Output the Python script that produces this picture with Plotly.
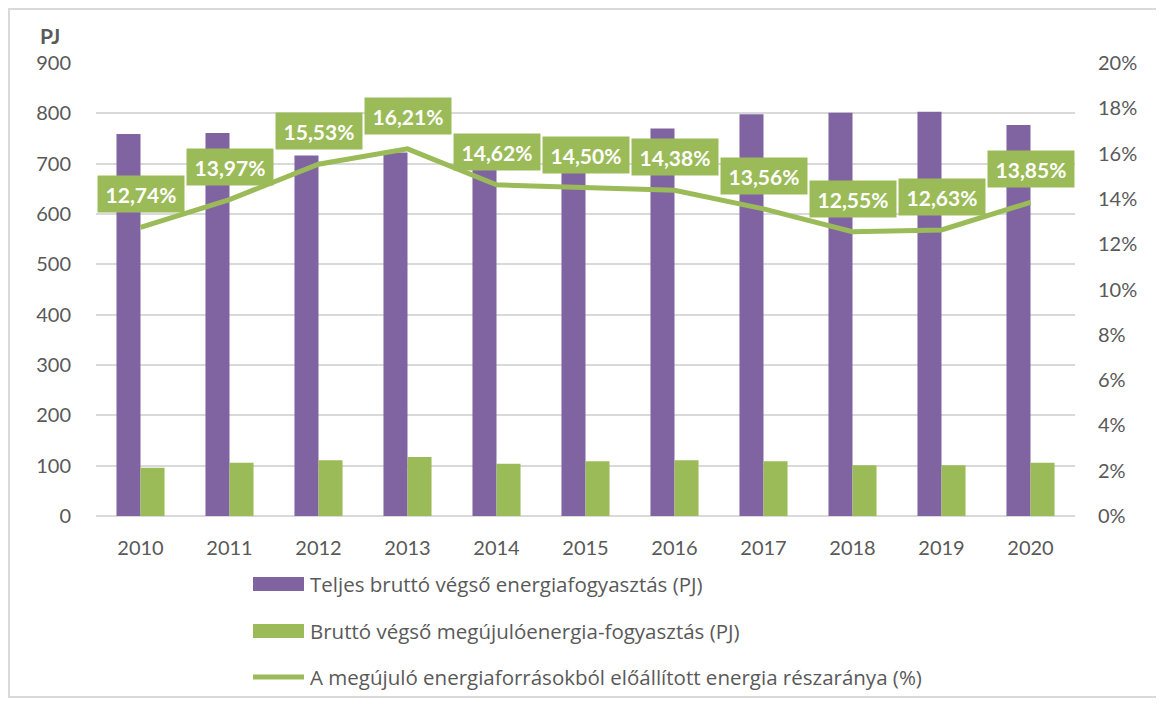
import plotly.graph_objects as go

years = ["2010", "2011", "2012", "2013", "2014", "2015", "2016", "2017", "2018", "2019", "2020"]
total_pj = [759, 761, 716, 722, 711, 752, 770, 798, 801, 803, 777]
renew_pj = [96, 106, 111, 117, 104, 109, 111, 109, 101, 101, 106]
share_pct = [12.74, 13.97, 15.53, 16.21, 14.62, 14.50, 14.38, 13.56, 12.55, 12.63, 13.85]
series_names = [
    "Teljes bruttó végső energiafogyasztás (PJ)",
    "Bruttó végső megújulóenergia-fogyasztás (PJ)",
    "A megújuló energiaforrásokból előállított energia részaránya (%)",
]
left_ticks = [0, 100, 200, 300, 400, 500, 600, 700, 800, 900]
right_ticks = [0, 2, 4, 6, 8, 10, 12, 14, 16, 18, 20]

PURPLE = "#8064A2"
GREEN = "#9BBB59"
TICK = "#595959"
GRID = "#D9D9D9"
FONT = "Lato, Open Sans, sans-serif"
LFONT = "Open Sans, Lato, sans-serif"

# screen geometry (page has an 8px body margin)
OFF = 8
PL, PR, PT, PB = 96, 1075, 63, 516
PW, PH = PR - PL, PB - PT


def px(x):
    return (x - PL) / PW


def py(y):
    return (PB - y) / PH


fig = go.Figure()
fig.add_trace(go.Bar(x=years, y=total_pj, name=series_names[0], marker_color=PURPLE,
                     marker_line_width=0, showlegend=False))
fig.add_trace(go.Bar(x=years, y=renew_pj, name=series_names[1], marker_color=GREEN,
                     marker_line_width=0, showlegend=False))
fig.add_trace(go.Scatter(x=years, y=share_pct, name=series_names[2], yaxis="y2",
                         mode="lines", line=dict(color=GREEN, width=5),
                         showlegend=False))

annotations = []
for i, v in enumerate(share_pct):
    annotations.append(dict(
        x=i, y=v, xref="x", yref="y2", yshift=33, showarrow=False,
        text="<b>" + f"{v:.2f}".replace(".", ",") + "%</b>",
        font=dict(family=FONT, size=21, color="white"),
        bgcolor=GREEN, borderpad=5, width=76, height=26,
    ))

# PJ axis title
annotations.append(dict(x=px(50), y=py(36), xref="paper", yref="paper", showarrow=False,
                        text="<b>PJ</b>", font=dict(family=FONT, size=21, color=TICK),
                        xanchor="center", yanchor="middle"))

# manual legend
leg_x0, leg_x1 = px(253), px(304)
leg_ys = [584, 631, 677]
shapes = []
for i, (name, yy) in enumerate(zip(series_names, leg_ys)):
    yc = py(yy)
    if i < 2:
        h = 7 / PH
        shapes.append(dict(type="rect", xref="paper", yref="paper", x0=leg_x0, x1=leg_x1,
                           y0=yc - h, y1=yc + h, fillcolor=[PURPLE, GREEN][i],
                           line=dict(width=0)))
    else:
        shapes.append(dict(type="line", xref="paper", yref="paper", x0=leg_x0, x1=leg_x1,
                           y0=yc, y1=yc, line=dict(color=GREEN, width=5)))
    annotations.append(dict(x=px(308), y=yc, xref="paper", yref="paper",
                            showarrow=False, text=name, xanchor="left", yanchor="middle",
                            font=dict(family=LFONT, size=20.5, color=TICK)))

# outer border
shapes.append(dict(type="rect", xref="paper", yref="paper",
                   x0=px(9), x1=px(1157), y0=py(697), y1=py(9),
                   line=dict(color="#D9D9D9", width=2), fillcolor="rgba(0,0,0,0)",
                   layer="below"))

W, H = 1164 - OFF, 704 - OFF
fig.update_layout(
    width=W, height=H,
    margin=dict(l=PL - OFF, r=W - (PR - OFF), t=PT - OFF, b=H - (PB - OFF)),
    paper_bgcolor="white", plot_bgcolor="white",
    barmode="group", bargap=0.46, bargroupgap=0,
    font=dict(family=FONT, size=20, color=TICK),
    xaxis=dict(type="category", showgrid=False, showline=False, ticks="",
               tickfont=dict(family=FONT, size=20, color=TICK), ticklabelstandoff=18),
    yaxis=dict(range=[0, 900], tickvals=left_ticks, showgrid=True, gridcolor=GRID,
               gridwidth=1.5, zeroline=True, zerolinecolor=GRID, zerolinewidth=1.5,
               showline=False, ticks="", ticklabelstandoff=24,
               tickfont=dict(family=FONT, size=20, color=TICK)),
    yaxis2=dict(range=[0, 20], tickvals=right_ticks,
                ticktext=[f"{t}%" for t in right_ticks],
                overlaying="y", side="right", showgrid=False, zeroline=False,
                showline=False, ticks="", ticklabelstandoff=22,
                tickfont=dict(family=FONT, size=20, color=TICK)),
    annotations=annotations,
    shapes=shapes,
)

fig.write_html("out.html")
